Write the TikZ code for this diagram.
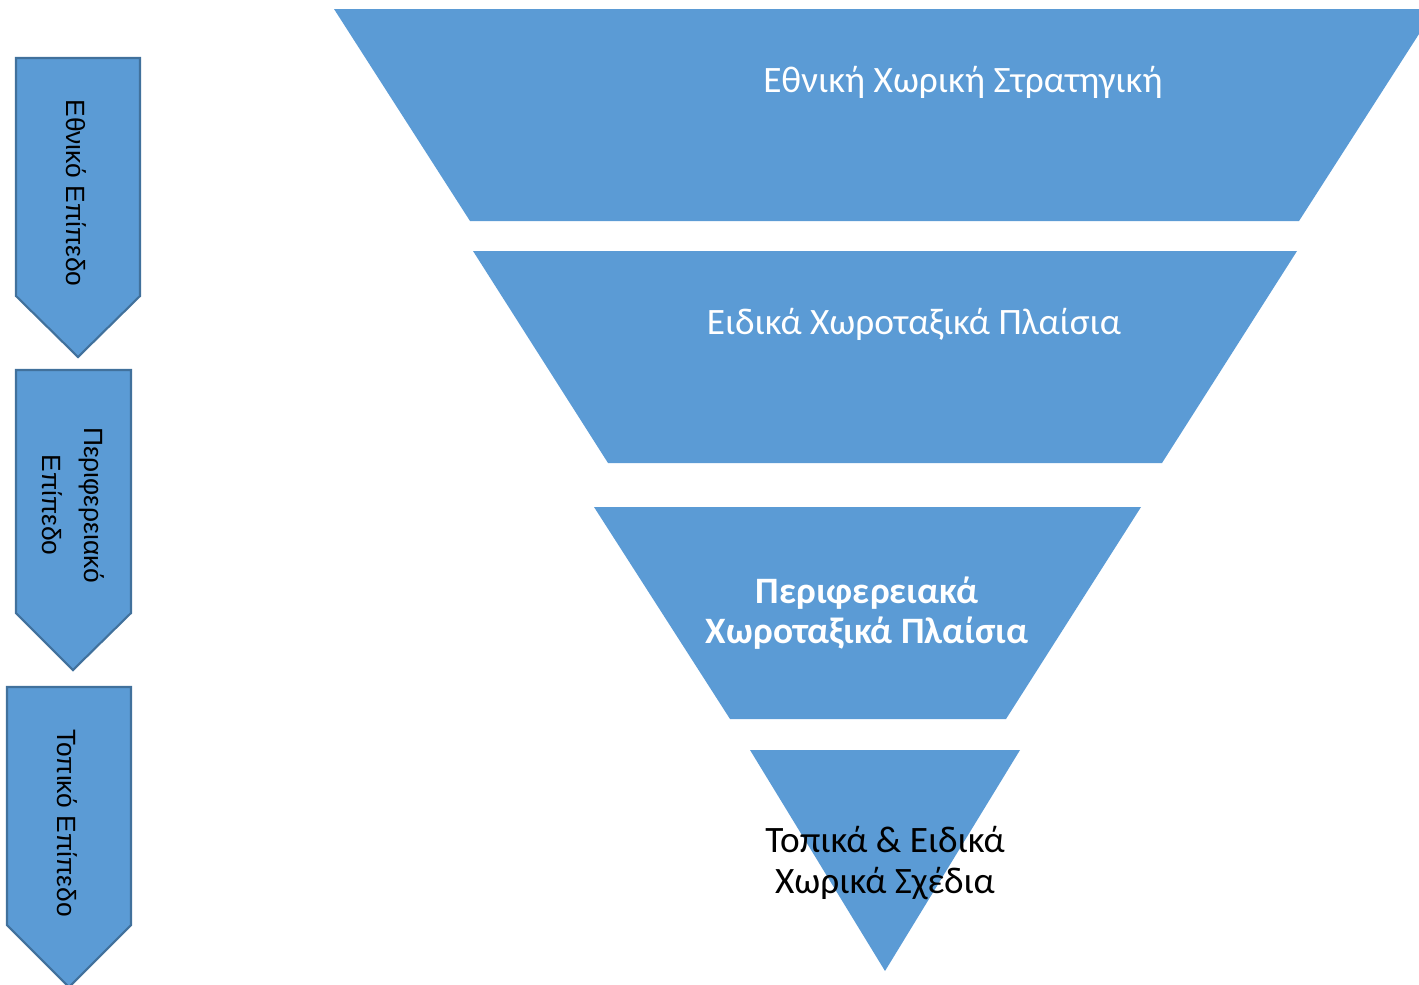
\documentclass[tikz,border=0pt]{standalone}
\usepackage{fontspec}
\setmainfont{Carlito}
\newfontfamily\arialfont{Liberation Sans}
\definecolor{funnelblue}{HTML}{5B9BD5}
\definecolor{arrowline}{HTML}{41719C}

\begin{document}
\begin{tikzpicture}[x=0.01cm,y=-0.01cm,
    level/.style={fill=funnelblue},
    levelarrow/.style={fill=funnelblue,draw=arrowline,line width=0.6pt},
    arrowtext/.style={rotate=-90,font=\arialfont\fontsize{7.5}{12}\selectfont,align=center},
    funneltext/.style={text=white,font=\fontsize{10.6}{11.5}\selectfont,align=center}]
    \useasboundingbox (0,0) rectangle (1419,984);
    \clip (0,0) rectangle (1419,984);
    % funnel
    \fill[level] (334,9) -- (1435,9) -- (1299,221) -- (470,221) -- cycle;
    \fill[level] (473,251) -- (1297,251) -- (1162,463) -- (608,463) -- cycle;
    \fill[level] (594,507) -- (1141,507) -- (1006,719) -- (730,719) -- cycle;
    \fill[level] (750,750) -- (1020,750) -- (885,971) -- cycle;
    \node[funneltext] (national) at (963,82) {Εθνική Χωρική Στρατηγική};
    \node[funneltext] (special) at (914,324) {Ειδικά Χωροταξικά Πλαίσια};
    \node[funneltext,font=\bfseries\fontsize{10.6}{11.5}\selectfont] (regional) at (867,613) {Περιφερειακά\\Χωροταξικά Πλαίσια};
    \node[funneltext,text=black,font=\fontsize{10.6}{11.7}\selectfont] (local) at (885,863) {Τοπικά \& Ειδικά\\Χωρικά Σχέδια};
    % levels on the left
    \draw[levelarrow] (16,58) -- (140,58) -- (140,296) -- (78,357) -- (16,296) -- cycle;
    \draw[levelarrow] (16,370) -- (131,370) -- (131,613) -- (73,670) -- (16,613) -- cycle;
    \draw[levelarrow] (7,687) -- (131,687) -- (131,925) -- (69,987) -- (7,925) -- cycle;
    \node[arrowtext] (natlevel) at (76,193) {Εθνικό Επίπεδο};
    \node[arrowtext] (reglevel) at (73,505) {Περιφερειακό\\Επίπεδο};
    \node[arrowtext] (loclevel) at (67,823) {Τοπικό Επίπεδο};
\end{tikzpicture}
\end{document}
